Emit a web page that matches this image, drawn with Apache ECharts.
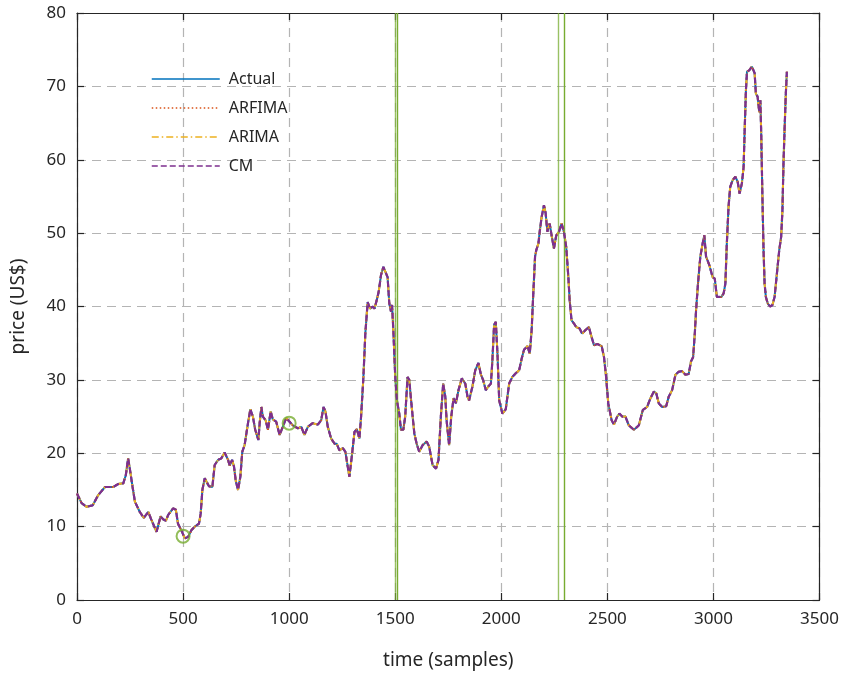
<!DOCTYPE html>
<html>
<head>
<meta charset="utf-8">
<script src="https://cdn.jsdelivr.net/npm/echarts@6/dist/echarts.min.js"></script>
<style>
  html, body { margin: 0; padding: 0; background: #fff; }
  #chart { width: 842px; height: 675px; }
</style>
</head>
<body>
<div id="chart"></div>
<script>
// Sample index and closing price (US$) of the actual series
const samples = [0,22,45,74,100,132,171,194,218,230,241,249,262,273,296,315,336,351,375,394,406,419,430,453,466,476,492,508,524,539,555,575,583,591,602,610,622,638,649,665,680,696,712,720,731,740,748,759,770,779,790,798,806,817,829,840,855,861,869,876,889,900,913,923,939,955,970,986,1002,1017,1041,1057,1072,1088,1111,1135,1151,1162,1171,1182,1198,1214,1224,1237,1253,1265,1276,1284,1295,1308,1319,1331,1339,1350,1359,1370,1381,1394,1402,1413,1422,1433,1444,1453,1464,1472,1480,1485,1491,1500,1508,1519,1527,1538,1547,1558,1566,1579,1590,1601,1613,1629,1648,1660,1676,1692,1704,1715,1726,1736,1742,1754,1764,1775,1786,1798,1814,1830,1841,1848,1864,1877,1892,1904,1914,1927,1939,1951,1958,1966,1974,1982,1990,2005,2021,2037,2052,2068,2084,2096,2107,2123,2134,2143,2150,2159,2165,2175,2181,2190,2201,2209,2217,2228,2237,2248,2259,2272,2284,2295,2306,2316,2322,2331,2342,2353,2369,2381,2397,2413,2421,2437,2452,2473,2484,2494,2504,2520,2531,2546,2557,2570,2585,2601,2625,2648,2667,2687,2703,2719,2730,2742,2758,2777,2789,2805,2821,2836,2852,2868,2883,2894,2904,2912,2918,2927,2938,2949,2957,2965,2974,2981,2990,2996,3006,3016,3024,3037,3048,3056,3063,3071,3079,3090,3103,3114,3123,3134,3142,3147,3153,3158,3169,3181,3189,3194,3200,3208,3216,3221,3225,3231,3236,3241,3247,3256,3267,3278,3288,3299,3310,3319,3325,3330,3335,3341,3346];
const actual = [14.5,13.2,12.7,12.9,14.3,15.4,15.4,15.8,15.9,17.0,19.3,17.9,15.4,13.4,12.0,11.2,12.0,10.9,9.3,11.4,11.0,10.8,11.6,12.5,12.3,10.4,9.5,8.4,8.6,9.5,10.0,10.4,11.8,15.0,16.6,16.7,15.5,15.4,18.4,19.1,19.3,20.1,19.1,18.3,19.1,18.2,16.3,15.0,16.8,20.2,21.1,20.9,24.1,26.0,25.0,23.2,21.8,24.1,26.3,25.0,24.5,23.2,25.7,24.6,24.3,22.5,23.6,24.8,24.3,23.8,23.4,23.6,22.5,23.6,24.1,23.9,24.5,26.3,25.7,23.6,22.0,21.3,21.3,20.4,20.7,20.2,18.2,16.8,19.5,22.9,23.3,22.0,25.0,30.4,36.3,40.6,39.7,40.0,39.7,40.9,42.0,44.3,45.4,45.2,44.0,40.4,39.3,40.2,36.8,30.4,27.2,25.4,23.2,23.2,25.0,30.4,30.0,25.9,22.7,21.3,20.2,21.1,21.6,20.9,18.4,17.9,19.1,25.0,29.5,27.7,24.5,21.1,25.0,27.5,26.8,28.6,30.2,29.5,27.7,27.2,29.1,31.3,32.3,30.7,30.0,28.6,29.1,29.5,32.7,37.5,37.9,33.5,27.2,25.4,26.0,29.5,30.4,30.9,31.3,32.9,34.1,34.6,33.6,36.8,41.3,46.8,47.7,48.6,50.2,52.2,53.8,52.7,50.2,51.3,49.7,47.9,49.7,50.2,51.3,50.2,48.1,44.0,40.9,38.1,37.7,37.2,37.0,36.3,36.8,37.2,36.3,34.7,34.9,34.6,33.1,30.4,26.8,24.5,23.9,25.0,25.4,25.0,25.0,23.8,23.2,23.8,25.9,26.3,27.5,28.4,28.2,26.8,26.3,26.4,27.7,28.6,30.7,31.1,31.2,30.7,30.8,32.5,33.1,36.3,39.5,43.1,46.8,48.6,49.7,46.8,47.0,45.6,45.4,44.0,43.8,41.3,41.1,41.3,41.8,43.1,48.6,53.6,56.3,57.2,57.7,57.0,55.4,56.8,59.0,64.0,69.5,72.0,72.2,72.7,72.9,71.8,69.0,68.6,66.5,68.1,63.6,54.5,47.7,43.1,41.3,40.4,40.0,40.2,41.3,44.5,47.7,49.5,53.1,59.5,64.0,69.0,72.0];
// One-step forecasts track the actual series to within line width
const arfima = actual.slice();
const arima = actual.slice();
const cm = actual.slice();

// Highlighted samples (circled) and boundary markers
const circledSamples = [500, 1000];
const circledPrices = [8.7, 24.1];
const boundaries = [1500, 1508, 2270, 2298];

const xTicks = { min: 0, max: 3500, interval: 500 };
const yTicks = { min: 0, max: 80, interval: 10 };

const pairs = (xs, ys) => xs.map((x, i) => [x, ys[i]]);

const FONT = 'Noto Sans';
const INK = '#262626';
const GREEN = '#77AC30';
const plain = v => String(v);

const chart = echarts.init(document.getElementById('chart'), null, { renderer: 'canvas' });

const frameAxis = {
  axisLine: { show: true, onZero: false, lineStyle: { color: INK, width: 1.2 } },
  axisTick: { show: true, inside: true, length: 7, lineStyle: { color: INK, width: 1.2 } },
};
const gridLines = { show: true, lineStyle: { color: '#b4b4b4', width: 1.2, type: [9, 6] } };

const lineSeries = (name, data, color, type, width, z) => ({
  name, type: 'line', data: pairs(samples, data),
  xAxisIndex: 0, yAxisIndex: 0,
  showSymbol: false, symbol: 'none', animation: false, z,
  lineStyle: { color, width, type },
  itemStyle: { color },
});

chart.setOption({
  backgroundColor: '#ffffff',
  animation: false,
  textStyle: { fontFamily: FONT, color: INK },
  grid: { left: 77, right: 21, top: 13, bottom: 75, containLabel: false },
  legend: {
    orient: 'vertical', left: 146, top: 66,
    itemWidth: 68, itemHeight: 14, itemGap: 13,
    itemStyle: { opacity: 0 },
    lineStyle: { width: 1.5 },
    textStyle: { fontFamily: FONT, fontSize: 16, color: INK, padding: [0, 0, 0, 4] },
    data: ['Actual', 'ARFIMA', 'ARIMA', 'CM'],
  },
  xAxis: [
    Object.assign({
      type: 'value', position: 'bottom', ...xTicks,
      name: 'time (samples)', nameLocation: 'middle', nameGap: 51,
      nameTextStyle: { fontFamily: FONT, fontSize: 19, color: INK },
      axisLabel: { fontFamily: FONT, fontSize: 17, color: INK, margin: 11, formatter: plain },
      splitLine: gridLines,
    }, frameAxis),
    Object.assign({
      type: 'value', position: 'top', ...xTicks,
      axisLabel: { show: false }, splitLine: { show: false },
    }, frameAxis),
  ],
  yAxis: [
    Object.assign({
      type: 'value', position: 'left', ...yTicks,
      name: 'price (US$)', nameLocation: 'middle', nameGap: 49,
      nameTextStyle: { fontFamily: FONT, fontSize: 19, color: INK },
      axisLabel: { fontFamily: FONT, fontSize: 17, color: INK, margin: 11, formatter: plain },
      splitLine: gridLines,
    }, frameAxis),
    Object.assign({
      type: 'value', position: 'right', ...yTicks,
      axisLabel: { show: false }, splitLine: { show: false },
    }, frameAxis),
  ],
  series: [
    Object.assign(lineSeries('Actual', actual, '#0072BD', 'solid', 2, 2), {
      markLine: {
        silent: true, symbol: ['none', 'none'], animation: false,
        label: { show: false },
        lineStyle: { color: GREEN, width: 1.4, type: 'solid' },
        data: boundaries.map((b, i) => ({
          xAxis: b,
          lineStyle: { color: GREEN, width: 1.4, type: 'solid', opacity: i % 2 === 0 ? 0.75 : 1 },
        })),
      },
    }),
    lineSeries('ARFIMA', arfima, '#D95319', [1.5, 2.5], 2, 3),
    lineSeries('ARIMA', arima, '#EDB120', [7, 3, 1.5, 3], 2, 4),
    lineSeries('CM', cm, '#7E2F8E', [6, 3], 2.2, 5),
    {
      name: 'highlight', type: 'scatter', data: pairs(circledSamples, circledPrices),
      xAxisIndex: 0, yAxisIndex: 0, symbol: 'circle', symbolSize: 13, z: 6,
      silent: true, animation: false,
      itemStyle: { color: 'rgba(0,0,0,0)', borderColor: GREEN, borderWidth: 2 },
    },
  ],
});
</script>
</body>
</html>
